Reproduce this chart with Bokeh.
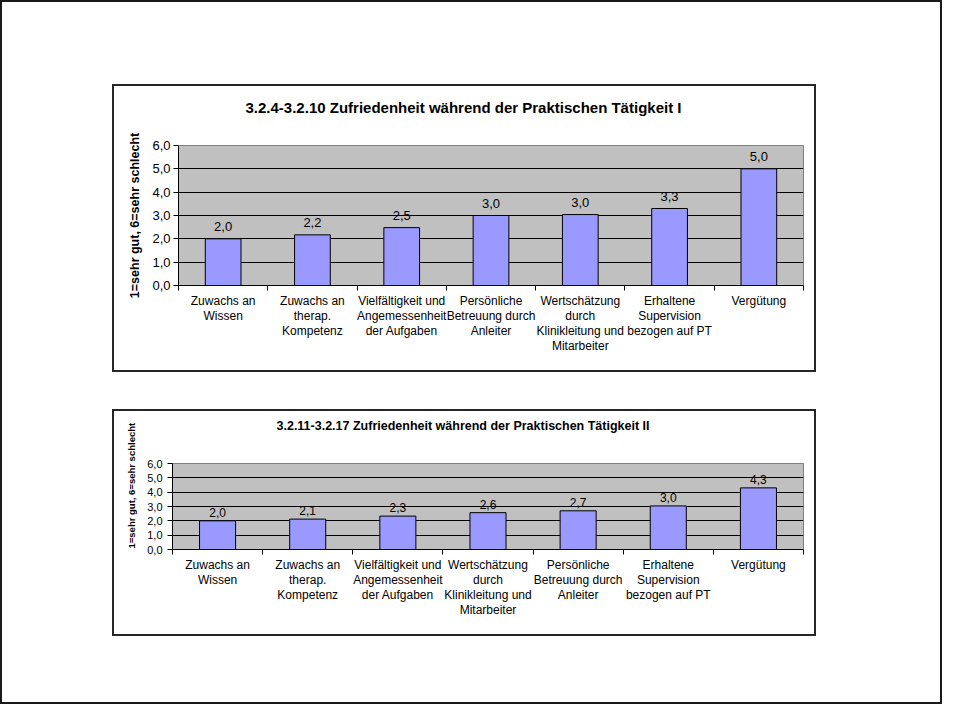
from bokeh.plotting import figure
from bokeh.models import (Range1d, FixedTicker, LabelSet, ColumnDataSource,
                          Spacer, Row, Column, Title)
from bokeh.core.properties import value
from bokeh.embed import file_html
from bokeh.resources import INLINE

FONT = "Liberation Sans"

title1 = "3.2.4-3.2.10 Zufriedenheit während der Praktischen Tätigkeit I"
title2 = "3.2.11-3.2.17 Zufriedenheit während der Praktischen Tätigkeit II"
y_label = "1=sehr gut, 6=sehr schlecht"

cats1 = ["Zuwachs an\nWissen",
         "Zuwachs an\ntherap.\nKompetenz",
         "Vielfältigkeit und\nAngemessenheit\nder Aufgaben",
         "Persönliche\nBetreuung durch\nAnleiter",
         "Wertschätzung\ndurch\nKlinikleitung und\nMitarbeiter",
         "Erhaltene\nSupervision\nbezogen auf PT",
         "Vergütung"]
vals1 = [2.0, 2.17, 2.48, 3.0, 3.04, 3.3, 5.0]

cats2 = ["Zuwachs an\nWissen",
         "Zuwachs an\ntherap.\nKompetenz",
         "Vielfältigkeit und\nAngemessenheit\nder Aufgaben",
         "Wertschätzung\ndurch\nKlinikleitung und\nMitarbeiter",
         "Persönliche\nBetreuung durch\nAnleiter",
         "Erhaltene\nSupervision\nbezogen auf PT",
         "Vergütung"]
vals2 = [2.0, 2.12, 2.33, 2.57, 2.7, 3.04, 4.3]

y_ticks = [0, 1, 2, 3, 4, 5, 6]
y_tick_labels = ["0,0", "1,0", "2,0", "3,0", "4,0", "5,0", "6,0"]


def make_chart(title, cats, vals, cfg):
    n = len(cats)
    p = figure(width=cfg["w"], height=cfg["h"],
               x_range=Range1d(-0.5, n - 0.5), y_range=Range1d(0, 6),
               output_backend="svg", toolbar_location=None,
               min_border_left=cfg["left"], min_border_right=cfg["right"],
               min_border_top=cfg["top"], min_border_bottom=cfg["bottom"])
    p.background_fill_color = "#C0C0C0"
    p.border_fill_color = "white"
    p.outline_line_color = "#808080"
    p.outline_line_width = 1
    p.styles = {"box-shadow": "0 0 0 2px #262626"}

    # title
    p.title.text = title
    p.title.align = "left"
    p.title.offset = cfg["toff"]
    p.title.standoff = cfg["tstandoff"]
    p.title.padding = dict(left=0, right=0, top=0, bottom=cfg["tpad"])
    p.title.vertical_align = "bottom"
    p.title.text_font = FONT
    p.title.text_font_size = cfg["titlesize"]
    p.title.text_font_style = "bold"
    p.title.text_color = "black"

    xs = list(range(n))
    src = ColumnDataSource(dict(x=xs, top=vals,
                                label=[f"{v:.1f}".replace(".", ",") for v in vals]))
    p.vbar(x="x", top="top", bottom=0, width=0.4, source=src,
           fill_color="#9999FF", line_color="black", line_width=1)
    p.add_layout(LabelSet(x="x", y="top", text="label", source=src,
                          text_align="center", text_baseline="alphabetic",
                          y_offset=cfg["voff"], text_font=value(FONT),
                          text_font_size=cfg["vsize"], text_color="black"))

    # grid
    p.xgrid.visible = False
    p.ygrid.grid_line_color = "black"
    p.ygrid.grid_line_width = 1

    # x axis
    xa = p.xaxis[0]
    xa.ticker = FixedTicker(ticks=xs, minor_ticks=[i - 0.5 for i in range(n + 1)])
    xa.major_label_overrides = {i: c for i, c in enumerate(cats)}
    xa.major_tick_out = 0
    xa.major_tick_in = 0
    xa.minor_tick_out = 5
    xa.minor_tick_in = 0
    xa.minor_tick_line_color = "black"
    xa.axis_line_color = "black"
    xa.major_label_text_font = FONT
    xa.major_label_text_font_size = cfg["csize"]
    xa.major_label_text_line_height = cfg["clh"]
    xa.major_label_text_color = "black"
    xa.major_label_standoff = cfg["cstand"]

    # y axis
    ya = p.yaxis[0]
    ya.ticker = FixedTicker(ticks=y_ticks)
    ya.major_label_overrides = dict(zip(y_ticks, y_tick_labels))
    ya.major_tick_out = 5
    ya.major_tick_in = 0
    ya.minor_tick_out = 0
    ya.minor_tick_in = 0
    ya.major_tick_line_color = "black"
    ya.axis_line_color = "black"
    ya.major_label_text_font = FONT
    ya.major_label_text_font_size = cfg["tsize"]
    ya.major_label_text_color = "black"
    ya.major_label_standoff = cfg["tstand"]
    if cfg["ylmode"] == "axis":
        ya.axis_label = y_label
        ya.axis_label_text_font = FONT
        ya.axis_label_text_font_size = cfg["ylsize"]
        ya.axis_label_text_font_style = "bold"
        ya.axis_label_text_color = "black"
        ya.axis_label_standoff = cfg["ylstand"]
    else:
        p.add_layout(Title(text=y_label, align="left", offset=cfg["yloff"],
                           standoff=cfg["ylstand"], vertical_align="bottom",
                           text_font=FONT, text_font_size=cfg["ylsize"],
                           text_font_style="bold", text_color="black"), "left")
    return p


cfg1 = dict(w=700, h=284, left=64, right=11, top=59, bottom=85,
            voff=8, vsize="13px", csize="12px", clh=1.09, cstand=3,
            tsize="13px", tstand=3, ylmode="axis", ylsize="12.5px", ylstand=7,
            toff=67, tstandoff=18, tpad=21, titlesize="15px")
cfg2 = dict(w=700, h=223, left=58, right=11, top=52, bottom=85,
            voff=4, vsize="12px", csize="12px", clh=1.09, cstand=3,
            tsize="11px", tstand=5, ylmode="title", ylsize="9.5px", ylstand=16,
            yloff=1,
            toff=104, tstandoff=4, tpad=29, titlesize="12.5px")

p1 = make_chart(title1, cats1, vals1, cfg1)
p2 = make_chart(title2, cats2, vals2, cfg2)

root = Column(children=[
    Spacer(width=942, height=86),
    Row(children=[Spacer(width=114, height=284), p1]),
    Spacer(width=942, height=41),
    Row(children=[Spacer(width=114, height=223), p2]),
], width=942, height=704, spacing=0,
    styles={"box-shadow": "inset 0 0 0 2px #1a1a1a"})

open("out.html", "w").write(file_html(root, INLINE))
